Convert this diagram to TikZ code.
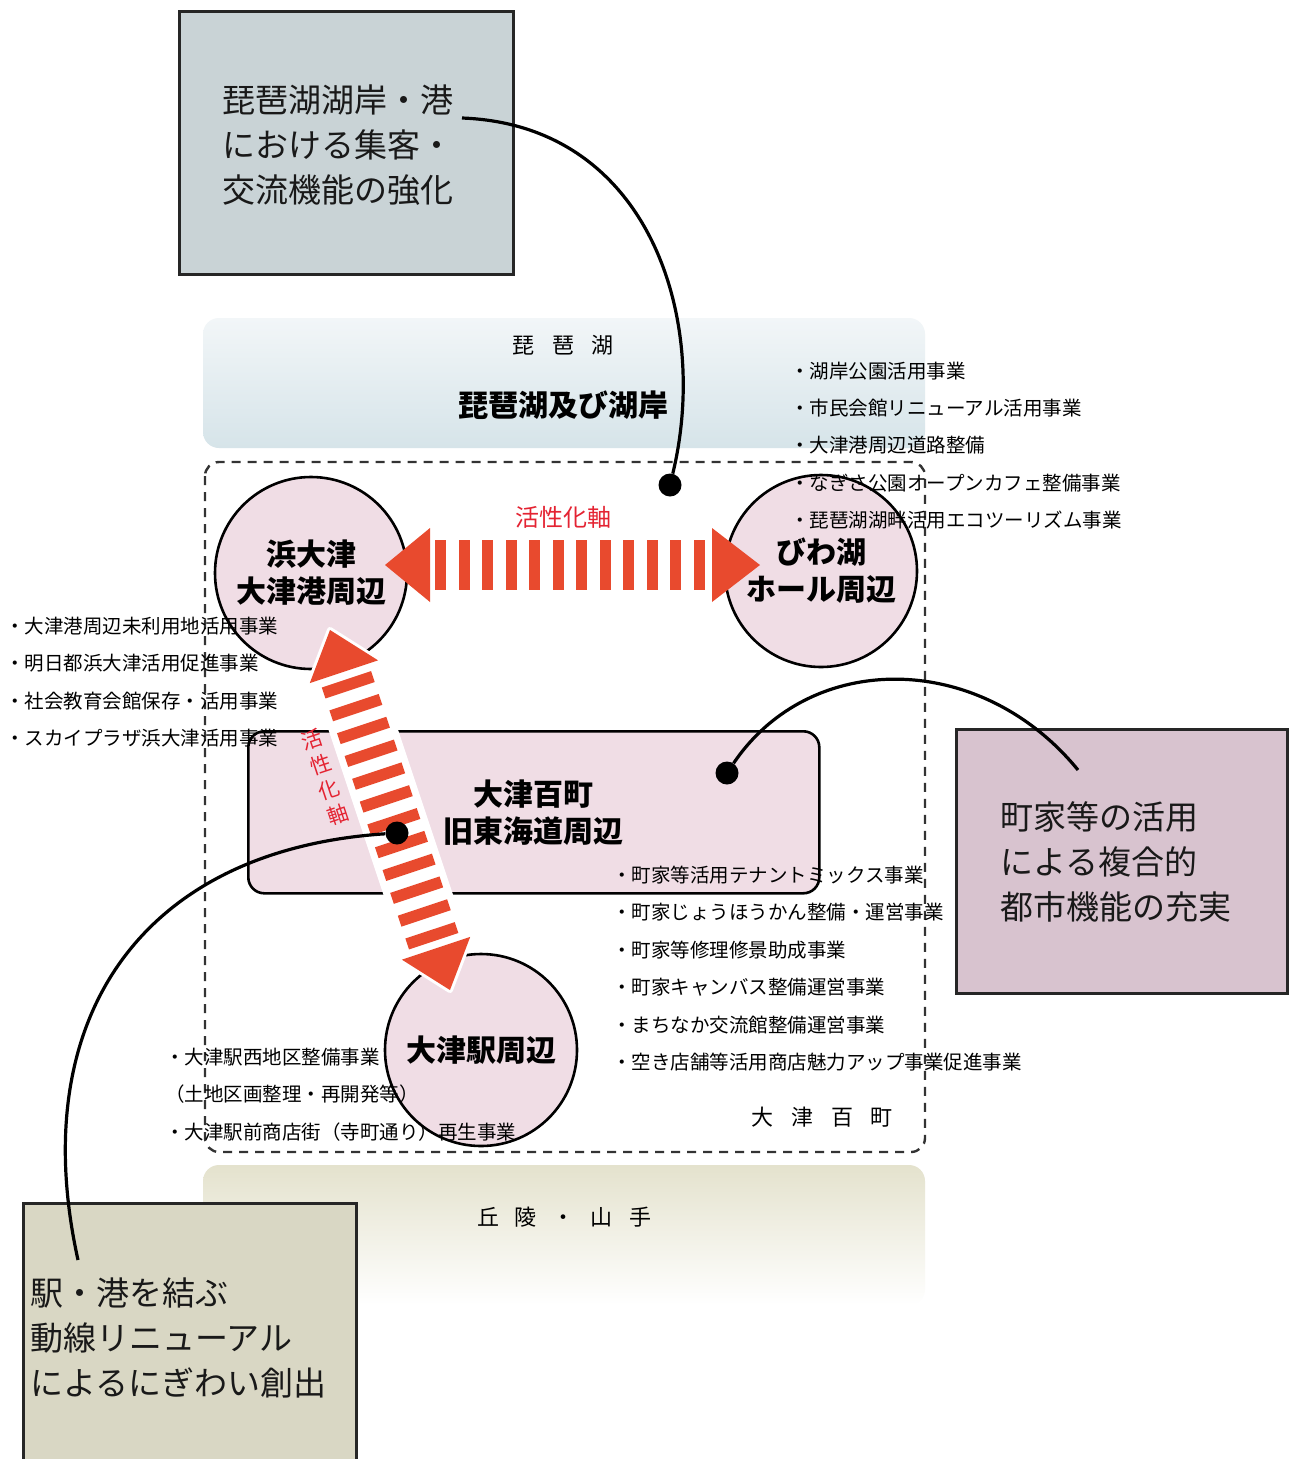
\documentclass[tikz,border=0pt]{standalone}
\usepackage{fontspec}
\setmainfont{Noto Sans CJK JP}
\usetikzlibrary{calc}
\definecolor{goalblue}{RGB}{201,211,214}
\definecolor{goalpink}{RGB}{216,195,207}
\definecolor{goalbeige}{RGB}{217,215,196}
\definecolor{areapink}{RGB}{240,221,229}
\definecolor{arrowred}{RGB}{232,74,46}
\definecolor{labelred}{RGB}{228,35,50}
\definecolor{laketop}{RGB}{242,246,248}
\definecolor{lakebottom}{RGB}{214,228,233}
\definecolor{hilltop}{RGB}{228,226,205}
\newcommand\zGoalFont{\fontsize{33}{45}\selectfont}
\newcommand\zAreaFont{\fontsize{30}{37}\selectfont\bfseries}
\newcommand\zItemFont{\fontsize{19.5}{37.4}\selectfont}
\newcommand\zBandFont{\fontsize{22}{26}\selectfont}
\newcommand\zAxisFont{\fontsize{21}{26.5}\selectfont}
\tikzset{
  goalbox/.style={draw=black!85, line width=3pt, inner sep=0pt, anchor=north west},
  goaltext/.style={anchor=west, inner sep=0pt, align=left, font=\zGoalFont, text=black!90},
  areacircle/.style={circle, draw=black, line width=2.6pt, fill=areapink, minimum size=192pt, inner sep=0pt, align=center, font=\zAreaFont},
  arearect/.style={rectangle, rounded corners=16pt, draw=black, line width=2.6pt, fill=areapink, inner sep=0pt, align=center, font=\zAreaFont, anchor=north west},
  itemtext/.style={anchor=west, inner sep=0pt, align=left, font=\zItemFont},
  bandtext/.style={inner sep=0pt, font=\zBandFont},
  dotnode/.style={circle, fill=black, minimum size=23pt, inner sep=0pt},
  leader/.style={line width=3.2pt, black},
  axislabel/.style={inner sep=0pt, align=center, font=\zAxisFont, text=labelred},
}
\begin{document}
\begin{tikzpicture}[x=1pt, y=-1pt]
\clip (0,0) rectangle (1290,1459);
\fill[white] (0,0) rectangle (1290,1459);

% bands
\shade[top color=laketop, bottom color=lakebottom, rounded corners=16pt] (203,318) rectangle (925,448);
\shade[top color=hilltop, bottom color=white, rounded corners=16pt] (203,1165) rectangle (925,1305);
\node[bandtext] (lakeTitle) at (563,345) {琵\hspace{18pt}琶\hspace{18pt}湖};
\node[bandtext, font=\fontsize{30}{34}\selectfont\bfseries] (lakeName) at (563,405) {琵琶湖及び湖岸};
\node[bandtext] (hillTitle) at (564,1217) {丘\hspace{16pt}陵\hspace{16pt}・\hspace{16pt}山\hspace{16pt}手};

% dashed district boundary
\draw[line width=2.4pt, dash pattern=on 9pt off 7pt, rounded corners=14pt, black!80] (205,462) rectangle (925,1152);
\node[bandtext] (districtName) at (822,1117) {大\hspace{18pt}津\hspace{18pt}百\hspace{18pt}町};

% areas
\node[areacircle] (hama) at (311,573) {浜大津\\大津港周辺};
\node[areacircle] (biwa) at (821,571) {びわ湖\\ホール周辺};
\node[areacircle] (eki) at (481,1050) {大津駅周辺};
\node[arearect, minimum width=571pt, minimum height=162pt] (hyaku) at (247,730) {大津百町\\旧東海道周辺};

% diagonal axis arrow
\coordinate (dA) at ($(hama.center)+(19,57)$);
\coordinate (dB) at ($(eki.center)+(-31,-60)$);
\begin{scope}[shift={(dA)}, rotate=-71.57]
  \fill[white, draw=white, line width=6pt, line join=round]
    (0,0) -- (44,-36) -- (44,-30) -- (335.5,-30) -- (335.5,-36) -- (379.5,0)
    -- (335.5,36) -- (335.5,30) -- (44,30) -- (44,36) -- cycle;
  \fill[arrowred] (0,0) -- (44,-36) -- (44,36) -- cycle;
  \fill[arrowred] (379.5,0) -- (335.5,-36) -- (335.5,36) -- cycle;
  \foreach \k in {0,...,11} \fill[arrowred] ({52+\k*24.05},-26) rectangle ++(11.5,52);
\end{scope}
\node[axislabel, rotate=18.4] (diagLabel) at (325,777) {活\\性\\化\\軸};

% horizontal axis arrow
\coordinate (hA) at ($(hama.center)+(74,-8)$);
\coordinate (hB) at ($(biwa.center)+(-61,-6)$);
\begin{scope}[shift={(hA)}]
  \fill[arrowred] (0,0) -- (45,-37) -- (45,37) -- cycle;
  \fill[arrowred] (375,0) -- (327,-37) -- (327,37) -- cycle;
  \foreach \k in {0,...,11} \fill[arrowred] ({50+\k*23.5},-25) rectangle ++(11,50);
\end{scope}
\node[axislabel, font=\fontsize{24}{26}\selectfont] (hLabel) at (563,517) {活性化軸};

% project lists
\node[itemtext] (listLake) at (790,445.5) {・湖岸公園活用事業\\・市民会館リニューアル活用事業\\・大津港周辺道路整備\\・なぎさ公園オープンカフェ整備事業\\・琵琶湖湖畔活用エコツーリズム事業};
\node[itemtext] (listHama) at (5,682) {・大津港周辺未利用地活用事業\\・明日都浜大津活用促進事業\\・社会教育会館保存・活用事業\\・スカイプラザ浜大津活用事業};
\node[itemtext] (listMachi) at (612,968.5) {・町家等活用テナントミックス事業\\・町家じょうほうかん整備・運営事業\\・町家等修理修景助成事業\\・町家キャンバス整備運営事業\\・まちなか交流館整備運営事業\\・空き店舗等活用商店魅力アップ事業促進事業};
\node[itemtext] (listEki) at (165,1094.5) {・大津駅西地区整備事業\\（土地区画整理・再開発等）\\・大津駅前商店街（寺町通り）再生事業};

% goal boxes
\node[goalbox, fill=goalblue, minimum width=334pt, minimum height=263pt] (goalA) at (178,10) {};
\node[goaltext] (goalAtext) at (222,145) {琵琶湖湖岸・港\\における集客・\\交流機能の強化};
\node[goalbox, fill=goalpink, minimum width=331pt, minimum height=264pt] (goalB) at (955,728) {};
\node[goaltext] (goalBtext) at (1000,862) {町家等の活用\\による複合的\\都市機能の充実};
\node[goalbox, fill=goalbeige, minimum width=333pt, minimum height=280pt] (goalC) at (22,1202) {};
\node[goaltext] (goalCtext) at (30,1338) {駅・港を結ぶ\\動線リニューアル\\によるにぎわい創出};

% leaders
\node[dotnode] (dotA) at (670,485) {};
\node[dotnode] (dotB) at (727,773) {};
\node[dotnode] (dotC) at (397,833) {};
\coordinate (goalAend) at (462,118);
\coordinate (goalBend) at (1078,770);
\coordinate (goalCend) at (78,1260);
\draw[leader] (goalAend) .. controls (650,125) and (710,320) .. (dotA);
\draw[leader] (dotB) .. controls (810,650) and (980,650) .. (goalBend);
\draw[leader] (dotC) .. controls (140,850) and (25,1020) .. (goalCend);
\end{tikzpicture}
\end{document}
